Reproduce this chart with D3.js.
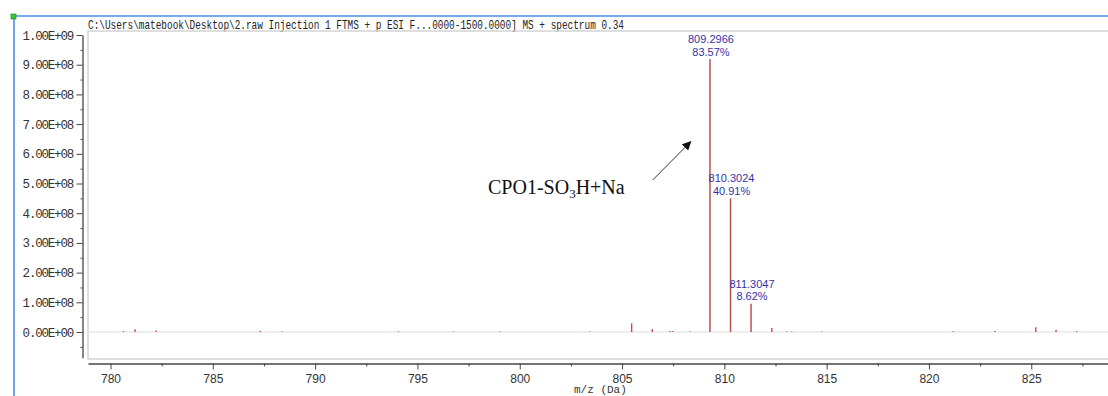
<!DOCTYPE html>
<html>
<head>
<meta charset="utf-8">
<script src="https://cdnjs.cloudflare.com/ajax/libs/d3/7.8.5/d3.min.js"></script>
<style>
  body { margin: 0; background: #fff; }
  svg { display: block; }
</style>
</head>
<body>
<div id="vis"></div>
<script>
// spectrum data (m/z, intensity)
const peakMz = [809.2966, 810.3024, 811.3047];
const peakIntensity = [9.19e8, 4.50e8, 0.95e8];
const peakMzLabels = ["809.2966", "810.3024", "811.3047"];
const peakPctLabels = ["83.57%", "40.91%", "8.62%"];

// small peaks / noise near the baseline
const minorMz = [780.63, 781.20, 782.23, 787.32, 788.37, 794.07, 796.76, 799.04, 803.44,
                 805.47, 806.48, 807.35, 807.48, 808.32, 812.32, 813.05, 813.29, 814.76,
                 821.19, 823.23, 825.22, 826.21, 827.22];
const minorIntensity = [3e6, 9e6, 5e6, 4e6, 2e6, 2e6, 2e6, 2e6, 2e6,
                        2.9e7, 1.0e7, 3e6, 3e6, 2e6, 1.35e7, 2e6, 2e6, 2e6,
                        3e6, 3e6, 1.6e7, 8e6, 3e6];

// axes
const xTicks = [780, 785, 790, 795, 800, 805, 810, 815, 820, 825];
const xMinorTicks = [782.5, 787.5, 792.5, 797.5, 802.5, 807.5, 812.5, 817.5, 822.5, 827.5];
const yTicks = [0, 1e8, 2e8, 3e8, 4e8, 5e8, 6e8, 7e8, 8e8, 9e8, 1e9];
const yTickLabels = ["0.00E+00", "1.00E+08", "2.00E+08", "3.00E+08", "4.00E+08", "5.00E+08",
                     "6.00E+08", "7.00E+08", "8.00E+08", "9.00E+08", "1.00E+09"];
const yMinorTicks = [-0.5e8, 0.5e8, 1.5e8, 2.5e8, 3.5e8, 4.5e8, 5.5e8, 6.5e8, 7.5e8, 8.5e8, 9.5e8];

const title = "C:\\Users\\matebook\\Desktop\\2.raw Injection 1 FTMS + p ESI F...0000-1500.0000] MS + spectrum 0.34";

const W = 1108, H = 396;
const plot = { left: 88, top: 31, bottom: 359 };

const svg = d3.select('#vis')
  .append('svg')
  .attr('width', W)
  .attr('height', H);

const x = d3.scaleLinear().domain([778.9, 828.75]).range([plot.left, W]);
const y = d3.scaleLinear().domain([-0.865e8, 1e9]).range([357.7, 35]);

// outer blue frame
svg.append("line").attr("x1", 13).attr("x2", W).attr("y1", 16).attr("y2", 16)
  .attr("stroke", "#4a8fe6").attr("stroke-width", 1.6);
svg.append("line").attr("x1", 14).attr("x2", 14).attr("y1", 16).attr("y2", H)
  .attr("stroke", "#4a8fe6").attr("stroke-width", 1.6);
svg.append("rect").attr("x", 11).attr("y", 14).attr("width", 5).attr("height", 5)
  .attr("fill", "#2fd12f").attr("stroke", "#157a15").attr("stroke-width", 0.6);

// title
svg.append("text")
  .attr("x", plot.left).attr("y", 28.5)
  .attr("font-family", "Liberation Mono, DejaVu Sans Mono, monospace")
  .attr("font-size", 13)
  .attr("fill", "#222")
  .attr("textLength", 536)
  .attr("lengthAdjust", "spacingAndGlyphs")
  .text(title);

// plot box
svg.append("path")
  .attr("d", `M${W + 2},${plot.top}H${plot.left}V${plot.bottom}H${W + 2}`)
  .attr("fill", "none").attr("stroke", "#d4d4d4").attr("stroke-width", 1.5);

// zero line
svg.append("line")
  .attr("x1", plot.left).attr("x2", W)
  .attr("y1", y(0)).attr("y2", y(0))
  .attr("stroke", "#dcdcdc").attr("stroke-width", 1.2);

// y axis
const yAxis = svg.append("g")
  .attr("transform", "translate(82.5,0)")
  .call(d3.axisLeft(y).tickValues(yTicks).tickSize(6).tickSizeOuter(0)
    .tickFormat((d, i) => yTickLabels[i]));
yAxis.select(".domain").attr("stroke", "#444").attr("stroke-width", 1.3);
yAxis.selectAll(".tick line").attr("stroke", "#444");
yAxis.selectAll(".tick text")
  .attr("x", -9.5)
  .attr("font-family", "Liberation Mono, DejaVu Sans Mono, monospace")
  .attr("font-size", 12.5)
  .attr("letter-spacing", -1.2)
  .attr("fill", "#333");

svg.append("g")
  .attr("transform", "translate(82.5,0)")
  .call(d3.axisLeft(y).tickValues(yMinorTicks).tickSize(2).tickSizeOuter(0).tickFormat(""))
  .call(g => g.select(".domain").remove())
  .selectAll(".tick line").attr("stroke", "#444");

// x axis
const xAxis = svg.append("g")
  .attr("transform", "translate(0,363.5)")
  .call(d3.axisBottom(x).tickValues(xTicks).tickSize(6).tickSizeOuter(0));
xAxis.select(".domain").attr("stroke", "#444").attr("stroke-width", 1.3);
xAxis.selectAll(".tick line").attr("stroke", "#444");
xAxis.selectAll(".tick text")
  .attr("y", 11)
  .attr("font-family", "Liberation Sans, Arial, sans-serif")
  .attr("font-size", 12)
  .attr("fill", "#333");

svg.append("g")
  .attr("transform", "translate(0,363.5)")
  .call(d3.axisBottom(x).tickValues(xMinorTicks).tickSize(3).tickSizeOuter(0).tickFormat(""))
  .call(g => g.select(".domain").remove())
  .selectAll(".tick line").attr("stroke", "#444");

svg.append("text")
  .attr("x", 574).attr("y", 393)
  .attr("font-family", "Liberation Mono, DejaVu Sans Mono, monospace")
  .attr("font-size", 11)
  .attr("fill", "#333")
  .text("m/z (Da)");

// peaks
const peakColor = "#c0504d";
const minor = minorMz.map((m, i) => ({ mz: m, v: minorIntensity[i] }));
svg.append("g")
  .selectAll("line")
  .data(minor)
  .join("line")
  .attr("x1", d => x(d.mz)).attr("x2", d => x(d.mz))
  .attr("y1", y(0)).attr("y2", d => y(d.v))
  .attr("stroke", peakColor).attr("stroke-width", 1.4);

const peaks = peakMz.map((m, i) => ({ mz: m, v: peakIntensity[i], lab: peakMzLabels[i], pct: peakPctLabels[i] }));
svg.append("g")
  .selectAll("line")
  .data(peaks)
  .join("line")
  .attr("x1", d => x(d.mz)).attr("x2", d => x(d.mz))
  .attr("y1", y(0)).attr("y2", d => y(d.v))
  .attr("stroke", peakColor).attr("stroke-width", 1.5);

const lab = svg.append("g")
  .attr("font-family", "Liberation Sans, Arial, sans-serif")
  .attr("font-size", 11)
  .attr("fill", "#3434a4")
  .attr("text-anchor", "middle");
lab.selectAll("text.mz")
  .data(peaks)
  .join("text")
  .attr("class", "mz")
  .attr("x", d => x(d.mz) + 1)
  .attr("y", d => y(d.v) - 16)
  .text(d => d.lab);
lab.selectAll("text.pct")
  .data(peaks)
  .join("text")
  .attr("class", "pct")
  .attr("x", d => x(d.mz) + 1)
  .attr("y", d => y(d.v) - 3.5)
  .text(d => d.pct);

// annotation
svg.append("defs").append("marker")
  .attr("id", "arr")
  .attr("viewBox", "0 0 10 10")
  .attr("refX", 9).attr("refY", 5)
  .attr("markerWidth", 9).attr("markerHeight", 9)
  .attr("markerUnits", "userSpaceOnUse")
  .attr("orient", "auto")
  .append("path").attr("d", "M0,0L10,5L0,10z").attr("fill", "#111");

svg.append("line")
  .attr("x1", 652.7).attr("y1", 180)
  .attr("x2", 690.7).attr("y2", 141.7)
  .attr("stroke", "#333").attr("stroke-width", 1)
  .attr("marker-end", "url(#arr)");

const ann = svg.append("text")
  .attr("x", 488).attr("y", 194)
  .attr("font-family", "Liberation Serif, Times New Roman, serif")
  .attr("font-size", 20)
  .attr("fill", "#111");
ann.append("tspan").text("CPO1-SO");
ann.append("tspan").attr("font-size", 13).attr("dy", 4).text("3");
ann.append("tspan").attr("dy", -4).text("H+Na");
</script>
</body>
</html>
